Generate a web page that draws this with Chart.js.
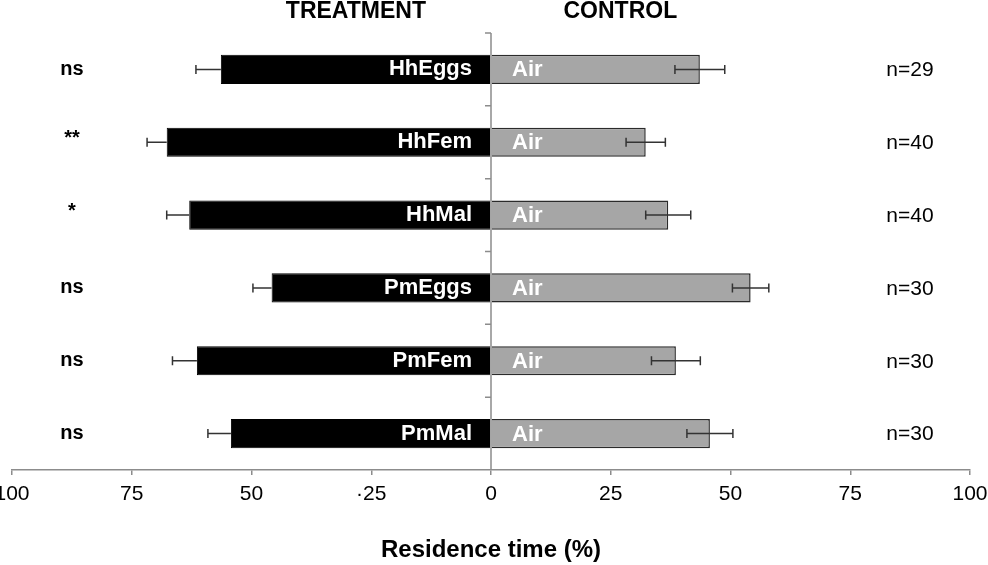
<!DOCTYPE html>
<html>
<head>
<meta charset="utf-8">
<script src="https://cdn.jsdelivr.net/npm/chart.js@4.4.1/dist/chart.umd.min.js"></script>
<style>
  html, body { margin: 0; padding: 0; background: #fff; }
  #box { width: 988px; height: 565px; }
</style>
</head>
<body>
<div id="box"><canvas id="bar-chart"></canvas></div>
<script>
//>>>>>>>>>>>>>> Data
var categories = ["HhEggs", "HhFem", "HhMal", "PmEggs", "PmFem", "PmMal"];
var treatmentMean = [56.4, 67.7, 63.0, 45.8, 61.4, 54.3];
var treatmentErr = [5.2, 4.1, 4.7, 3.9, 5.1, 4.8];
var controlMean = [43.6, 32.3, 37.0, 54.2, 38.6, 45.7];
var controlErr = [5.2, 4.1, 4.7, 3.8, 5.1, 4.8];
var controlName = ["Air", "Air", "Air", "Air", "Air", "Air"];
var significance = ["ns", "**", "*", "ns", "ns", "ns"];
var sampleSize = ["n=29", "n=40", "n=40", "n=30", "n=30", "n=30"];
var xTickLabels = ["100", "75", "50", "\u00b725", "0", "25", "50", "75", "100"];

var FONT = "'Liberation Sans', Arial, sans-serif";
var AXIS_GREY = "#8c8c8c";

//>>>>>>>>>>>>>> Extra drawing: centre axis, error bars, labels
var extras = {
  id: "extras",
  afterDatasetsDraw: function (chart) {
    var ctx = chart.ctx;
    var xs = chart.scales.x, ys = chart.scales.y;
    var area = chart.chartArea;
    var x0 = xs.getPixelForValue(0);
    var step = (area.bottom - area.top) / categories.length;

    ctx.save();
    // vertical axis at zero with ticks between the groups
    ctx.strokeStyle = AXIS_GREY;
    ctx.lineWidth = 1.5;
    ctx.beginPath();
    ctx.moveTo(x0, area.top);
    ctx.lineTo(x0, area.bottom);
    for (var k = 0; k < categories.length; k++) {
      var yb = ys.getPixelForValue(k) - step / 2;
      ctx.moveTo(x0 - 6, yb);
      ctx.lineTo(x0, yb);
    }
    ctx.stroke();

    ctx.strokeStyle = "#333";
    ctx.lineWidth = 1.5;
    for (var i = 0; i < categories.length; i++) {
      var y = ys.getPixelForValue(i);

      // treatment error bar (inner half is lost in the black bar)
      var tEnd = xs.getPixelForValue(-treatmentMean[i]);
      var tOut = xs.getPixelForValue(-treatmentMean[i] - treatmentErr[i]);
      ctx.beginPath();
      ctx.moveTo(tEnd, y); ctx.lineTo(tOut, y);
      ctx.moveTo(tOut, y - 4.5); ctx.lineTo(tOut, y + 4.5);
      ctx.stroke();

      // control error bar
      var a = xs.getPixelForValue(controlMean[i] - controlErr[i]);
      var c = xs.getPixelForValue(controlMean[i] + controlErr[i]);
      ctx.beginPath();
      ctx.moveTo(a, y); ctx.lineTo(c, y);
      ctx.moveTo(a, y - 4.5); ctx.lineTo(a, y + 4.5);
      ctx.moveTo(c, y - 4.5); ctx.lineTo(c, y + 4.5);
      ctx.stroke();

      // names inside the bars
      ctx.fillStyle = "#fff";
      ctx.font = "bold 22px " + FONT;
      ctx.textBaseline = "middle";
      ctx.textAlign = "right";
      ctx.fillText(categories[i], x0 - 19, y);
      ctx.textAlign = "left";
      ctx.fillText(controlName[i], x0 + 21, y + 1);

      // significance and sample size
      ctx.fillStyle = "#000";
      ctx.textAlign = "center";
      ctx.font = "bold 20px " + FONT;
      ctx.fillText(significance[i], 72, significance[i].indexOf("*") >= 0 ? y - 4 : y);
      ctx.font = "21px " + FONT;
      ctx.fillText(sampleSize[i], 910, y + 1);
    }

    // group headers
    ctx.font = "bold 23px " + FONT;
    ctx.fillText("TREATMENT", xs.getPixelForValue(-28.2), 12);
    ctx.fillText("CONTROL", xs.getPixelForValue(27), 12);
    ctx.restore();
  }
};

//>>>>>>>>>>>>>> Draw chart
new Chart("bar-chart", {
  type: "bar",
  data: {
    labels: categories,
    datasets: [
      {
        label: "Treatment",
        data: treatmentMean.map(function (v) { return -v; }),
        backgroundColor: "#000",
        borderColor: "#000",
        borderWidth: 1,
      },
      {
        label: "Control",
        data: controlMean,
        backgroundColor: "#a6a6a6",
        borderColor: "#2b2b2b",
        borderWidth: 1.5,
      },
    ],
  },
  options: {
    indexAxis: "y",
    responsive: true,
    maintainAspectRatio: false,
    animation: false,
    layout: { padding: { left: 12, right: 18, top: 33, bottom: 0 } },
    datasets: { bar: { categoryPercentage: 1, barPercentage: 0.4 } },
    plugins: { legend: { display: false }, tooltip: { enabled: false } },
    scales: {
      x: {
        stacked: true,
        min: -100,
        max: 100,
        afterFit: function (scale) {
          scale.height = 95;
          scale.paddingLeft = 0;
          scale.paddingRight = 0;
        },
        ticks: {
          stepSize: 25,
          maxRotation: 0,
          padding: 7,
          color: "#000",
          font: { family: FONT, size: 21 },
          callback: function (v, i) { return xTickLabels[i]; },
        },
        grid: { drawOnChartArea: false, drawTicks: true, tickLength: 5, color: AXIS_GREY, lineWidth: 1.5 },
        border: { color: AXIS_GREY, width: 1.5 },
        title: {
          display: true,
          text: "Residence time (%)",
          color: "#000",
          font: { family: FONT, size: 24, weight: "bold" },
          padding: { top: 0, bottom: 0 },
        },
      },
      y: {
        stacked: true,
        display: false,
      },
    },
  },
  plugins: [extras],
});
</script>
</body>
</html>
